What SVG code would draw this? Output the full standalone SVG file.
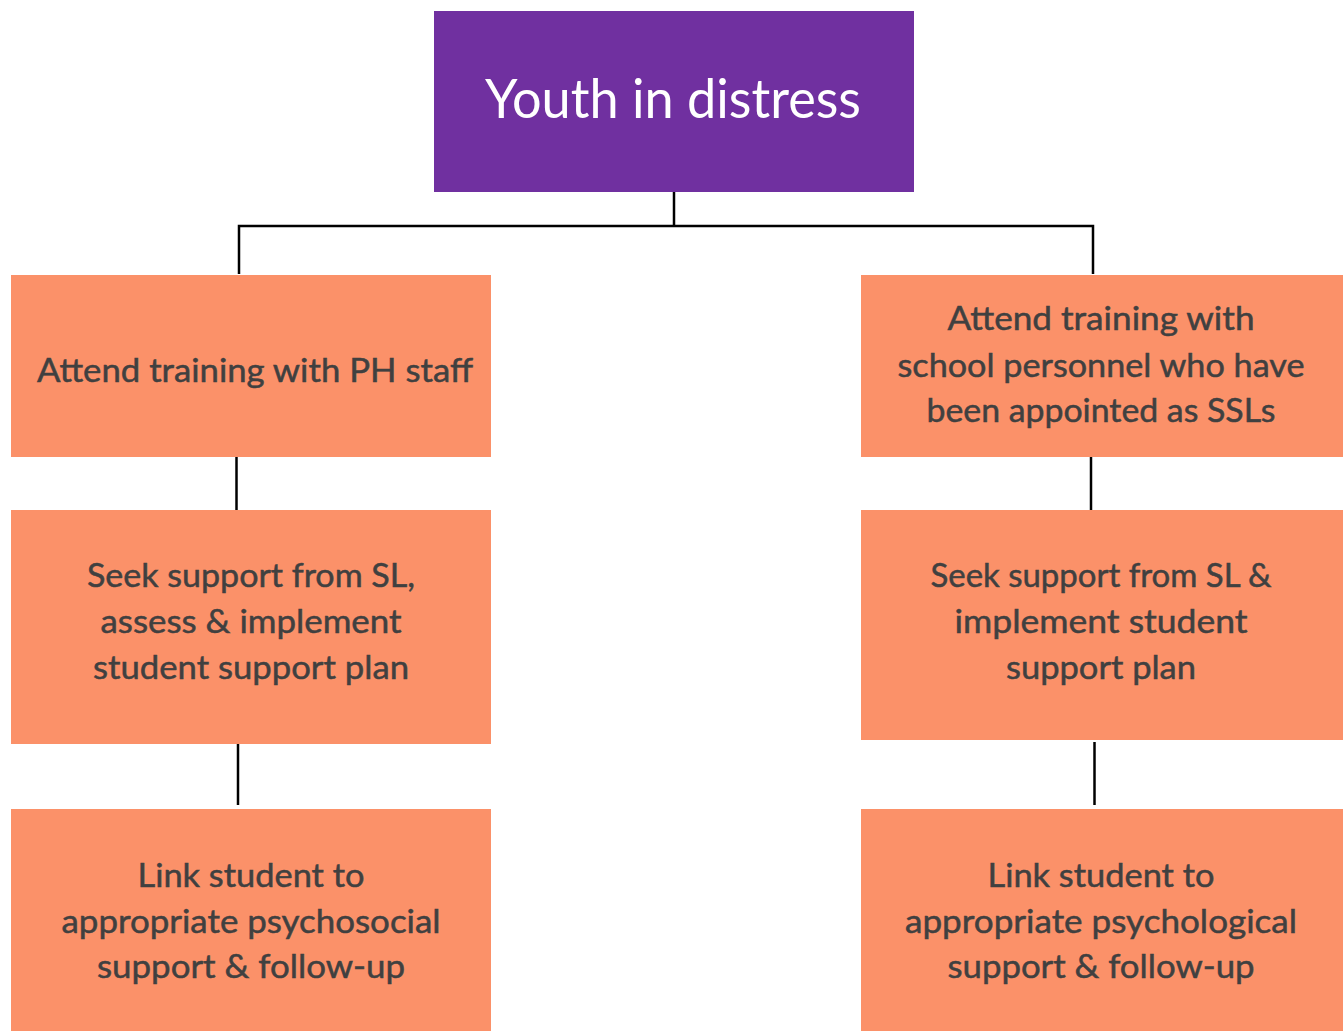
<svg xmlns="http://www.w3.org/2000/svg" width="1343" height="1031" viewBox="0 0 1343 1031">
  <style>
    .step { fill: #FB9169; }
    .root { fill: #7030A0; }
    .label { font-family: "Lato", "Open Sans", "Liberation Sans", sans-serif; font-size: 33px; fill: #404040; stroke: #404040; stroke-width: 0.5; text-anchor: middle; }
    .title { font-family: "Lato", "Open Sans", "Liberation Sans", sans-serif; font-size: 54px; fill: #FFFFFF; text-anchor: middle; }
    .wire { stroke: #000000; stroke-width: 2.5; fill: none; }
  </style>
  <rect width="1343" height="1031" fill="#FFFFFF"/>

  <g id="connectors">
    <polyline class="wire" points="674,192 674,226"/>
    <polyline class="wire" points="239,274 239,226 1093,226 1093,274"/>
    <line class="wire" x1="236.5" y1="457" x2="236.5" y2="510"/>
    <line class="wire" x1="238" y1="744" x2="238" y2="805"/>
    <line class="wire" x1="1091" y1="457" x2="1091" y2="510"/>
    <line class="wire" x1="1094.5" y1="742" x2="1094.5" y2="805"/>
  </g>

  <g id="youth-in-distress">
    <rect class="root" x="434" y="11" width="480" height="181"/>
    <text class="title" x="673" y="118" textLength="376" lengthAdjust="spacingAndGlyphs">Youth in distress</text>
  </g>

  <g id="left-training">
    <rect class="step" x="11" y="275" width="480" height="182"/>
    <text class="label" x="255" y="382" textLength="436" lengthAdjust="spacingAndGlyphs">Attend training with PH staff</text>
  </g>

  <g id="left-support">
    <rect class="step" x="11" y="510" width="480" height="234"/>
    <text class="label" x="251" y="587" textLength="328" lengthAdjust="spacingAndGlyphs">Seek support from SL,</text>
    <text class="label" x="251" y="633" textLength="301" lengthAdjust="spacingAndGlyphs">assess &amp; implement</text>
    <text class="label" x="251" y="679" textLength="316" lengthAdjust="spacingAndGlyphs">student support plan</text>
  </g>

  <g id="left-link">
    <rect class="step" x="11" y="809" width="480" height="222"/>
    <text class="label" x="251" y="887" textLength="227" lengthAdjust="spacingAndGlyphs">Link student to</text>
    <text class="label" x="251" y="933" textLength="379" lengthAdjust="spacingAndGlyphs">appropriate psychosocial</text>
    <text class="label" x="251" y="978" textLength="308" lengthAdjust="spacingAndGlyphs">support &amp; follow-up</text>
  </g>

  <g id="right-training">
    <rect class="step" x="861" y="275" width="482" height="182"/>
    <text class="label" x="1101" y="330" textLength="307" lengthAdjust="spacingAndGlyphs">Attend training with</text>
    <text class="label" x="1101" y="377" textLength="407" lengthAdjust="spacingAndGlyphs">school personnel who have</text>
    <text class="label" x="1101" y="422" textLength="349" lengthAdjust="spacingAndGlyphs">been appointed as SSLs</text>
  </g>

  <g id="right-support">
    <rect class="step" x="861" y="510" width="482" height="230"/>
    <text class="label" x="1101" y="587" textLength="341" lengthAdjust="spacingAndGlyphs">Seek support from SL &amp;</text>
    <text class="label" x="1101" y="633" textLength="293" lengthAdjust="spacingAndGlyphs">implement student</text>
    <text class="label" x="1101" y="679" textLength="190" lengthAdjust="spacingAndGlyphs">support plan</text>
  </g>

  <g id="right-link">
    <rect class="step" x="861" y="809" width="482" height="222"/>
    <text class="label" x="1101" y="887" textLength="227" lengthAdjust="spacingAndGlyphs">Link student to</text>
    <text class="label" x="1101" y="933" textLength="392" lengthAdjust="spacingAndGlyphs">appropriate psychological</text>
    <text class="label" x="1101" y="978" textLength="307" lengthAdjust="spacingAndGlyphs">support &amp; follow-up</text>
  </g>
</svg>
